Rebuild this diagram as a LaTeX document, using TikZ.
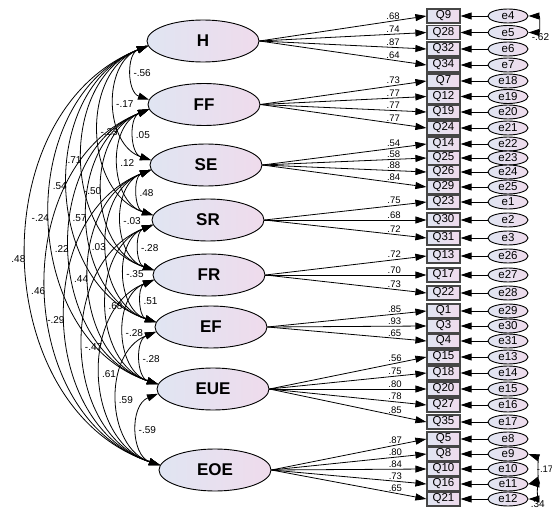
\documentclass[tikz,border=0pt]{standalone}
\usepackage{fontspec}
\setmainfont{Liberation Sans}
\usetikzlibrary{arrows.meta, shapes.geometric}

\definecolor{shadeblue}{RGB}{224,229,242}
\definecolor{shadepink}{RGB}{239,219,236}
\definecolor{rimgrey}{RGB}{70,70,70}

\tikzset{
	latent/.style = {ellipse, draw, line width = 0.9pt, minimum width = 112pt, minimum height = 42pt, inner sep = 0pt, left color = shadeblue, right color = shadepink, font = \fontsize{17}{17}\selectfont\bfseries},
	item/.style = {rectangle, draw = rimgrey, line width = 1.2pt, minimum width = 33pt, minimum height = 14pt, inner sep = 0pt, left color = shadeblue, right color = shadepink, font = \fontsize{11.5}{12}\selectfont},
	errvar/.style = {ellipse, draw, line width = 0.9pt, minimum width = 40pt, minimum height = 14pt, inner sep = 0pt, left color = shadeblue, right color = shadepink, font = \fontsize{11.5}{12}\selectfont},
	loading/.style = {pos = 0.8, above = 1pt, inner sep = 0.5pt, font = \fontsize{9.5}{9.5}\selectfont},
	corr/.style = {inner sep = 1pt, font = \fontsize{10}{10}\selectfont},
}

\begin{document}
\begin{tikzpicture}[> = {Triangle[length = 11pt, width = 7pt]}, x = 1pt, y = -1pt, line width = 0.8pt]

	\useasboundingbox (0, 0) rectangle (552, 508);

	% The eight factors
	\foreach \f/\x/\y in {H/203/41, FF/204/104.5, SE/206/165, SR/208/220, FR/209/275, EF/211/327, EUE/213/389, EOE/215/470}
		\node [latent] (\f) at (\x, \y) {\f};

	% Items, their errors and the loadings
	\foreach \q/\e/\y/\f/\w in {Q9/e4/16/H/.68, Q28/e5/32.5/H/.74, Q32/e6/49/H/.87, Q34/e7/65/H/.64,
			Q7/e18/81/FF/.73, Q12/e19/96.5/FF/.77, Q19/e20/112/FF/.77, Q24/e21/128/FF/.77,
			Q14/e22/144/SE/.54, Q25/e23/158/SE/.58, Q26/e24/172/SE/.88, Q29/e25/187/SE/.84,
			Q23/e1/202/SR/.75, Q30/e2/220/SR/.68, Q31/e3/238/SR/.72,
			Q13/e26/256/FR/.72, Q17/e27/275/FR/.70, Q22/e28/293/FR/.73,
			Q1/e29/311/EF/.85, Q3/e30/326/EF/.93, Q4/e31/341/EF/.65,
			Q15/e13/357/EUE/.56, Q18/e14/373/EUE/.75, Q20/e15/389/EUE/.80, Q27/e16/405/EUE/.78, Q35/e17/422/EUE/.85,
			Q5/e8/439/EOE/.87, Q8/e9/454/EOE/.80, Q10/e10/469/EOE/.84, Q16/e11/484/EOE/.73, Q21/e12/499/EOE/.65}
	{
		\node [item] (\q) at (443.5, \y) {\q};
		\node [errvar] (\e) at (508, \y) {\e};
		\draw [->] (\e.west) -- (\q.east);
		\draw [->] (\f.east) -- node [loading] {\w} (\q.west);
	}

	% Correlations between the factors
	\foreach \a/\b/\r/\side in {H/FF/-.56/right, FF/SE/.05/right, SE/SR/.48/right, SR/FR/-.28/right, FR/EF/.51/right, EF/EUE/-.28/right, EUE/EOE/-.59/right,
			H/SE/-.17/right, FF/SR/.12/right, SE/FR/-.03/right, SR/EF/-.35/right, FR/EUE/-.28/right, EF/EOE/.59/right,
			H/SR/-.23/right, FF/FR/-.50/left, SE/EF/.03/left, SR/EUE/.68/right, FR/EOE/.61/right,
			H/FR/.71/left, FF/EF/.57/left, SE/EUE/.44/left, SR/EOE/-.47/right,
			H/EF/.54/left, FF/EUE/.22/left, SE/EOE/-.29/left,
			H/EUE/-.24/left, FF/EOE/.46/left,
			H/EOE/.48/left}
		\draw [<->] (\a.185) to [bend right = 70, looseness = 1.1] node [corr, \side] {\r} (\b.175);

	% Correlated errors
	\draw [<->] (e4.east) to [bend left = 90, looseness = 1.8] node [corr, at end, anchor = north west, xshift = 2pt] {-.62} (e5.east);
	\draw [<->] (e9.east) to [bend left = 70, looseness = 0.85] node [corr, anchor = west, inner sep = 0pt, xshift = 1pt, font = \fontsize{9.5}{9.5}\selectfont] {-.17} (e11.east);
	\draw [<->] (e11.east) to [bend left = 90, looseness = 1.4] node [corr, at end, anchor = north west, xshift = 1pt] {.34} (e12.east);

\end{tikzpicture}
\end{document}
